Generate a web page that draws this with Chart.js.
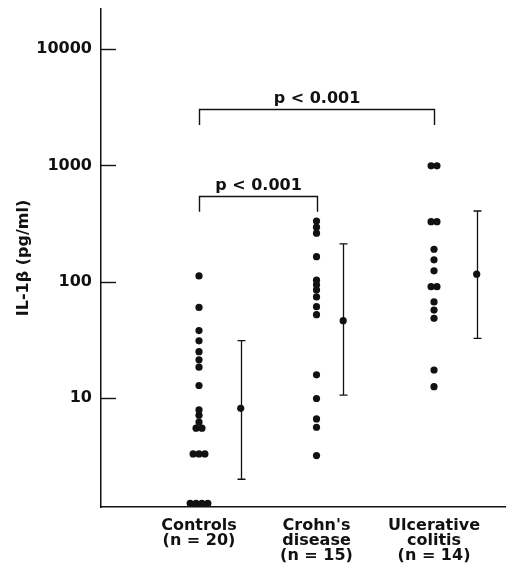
<!DOCTYPE html>
<html>
<head>
<meta charset="utf-8">
<title>IL-1β by group</title>
<script src="https://cdn.jsdelivr.net/npm/chart.js@4.4.1/dist/chart.umd.min.js"></script>
<style>
  html, body { margin: 0; padding: 0; background: #fff; }
  canvas { display: block; }
</style>
</head>
<body>
<canvas id="il1bChart" width="517" height="570"></canvas>
<script>
/* ==========================================================
   IL-1β (pg/ml) – controls vs Crohn's vs ulcerative colitis
   individual values + mean / range bars, log axis
========================================================== */

/* ---------- data ---------- */
const GROUP_LABELS = [
  ['Controls', '(n = 20)'],
  ["Crohn's", 'disease', '(n = 15)'],
  ['Ulcerative', 'colitis', '(n = 14)']
];
const CONTROLS = [112, 60, 38, 31, 25, 21.3, 18.4, 12.8, 7.9, 7.1, 6.2,
                  5.5, 5.5, 3.3, 3.3, 3.3, 1.24, 1.24, 1.24, 1.24];
const CROHNS   = [332, 294, 261, 164, 103, 94, 85, 74, 61, 52,
                  15.8, 9.9, 6.6, 5.6, 3.2];
const COLITIS  = [990, 990, 328, 328, 190, 154, 124, 90.6, 90.6,
                  67, 57, 48.4, 17.4, 12.5];
const MEANS    = [8.15, 46.2, 116];
const LOWER    = [2.0, 10.6, 32.6];
const UPPER    = [31.1, 211, 405];
const Y_TICKS  = [10, 100, 1000, 10000];
const P_LABELS = ['p < 0.001', 'p < 0.001'];
const BRACKET_PAIRS = [[0, 2], [0, 1]];
const BRACKET_TOP   = [3050, 545];   // y value of the bar
const BRACKET_FOOT  = [2220, 400];   // y value where the legs stop

/* ---------- look ---------- */
const INK   = '#111';
const FONT  = { family: '"DejaVu Sans", Arial, sans-serif', size: 16, weight: 'bold' };
const X_MIN = -0.834, X_MAX = 2.604;
const Y_MIN = 1.155,  Y_MAX = 22100;
const SUMMARY_SHIFT = [0.355, 0.227, 0.363];   // mean bar sits right of the dots
const TIE_STEP = 0.05;                         // side-by-side spacing for equal values
const CAP = 4, TICK_IN = 15;

/* ---------- tiny utils ---------- */
const spread = (vals, cat) => {
  const count = new Map(), seen = new Map();
  vals.forEach(v => count.set(v, (count.get(v) || 0) + 1));
  return vals.map(v => {
    const n = count.get(v), i = seen.get(v) || 0;
    seen.set(v, i + 1);
    return { x: cat + (i - (n - 1) / 2) * TIE_STEP, y: v };
  });
};
const fontStr = f => `${f.weight} ${f.size}px ${f.family}`;
const noPad = s => { s.paddingTop = s.paddingBottom = s.paddingLeft = s.paddingRight = 0; };

/* ---------- extras: inward ticks, range bars, brackets ---------- */
const extras = {
  id: 'extras',
  afterDatasetsDraw (chart) {
    const { ctx, chartArea: area, scales: { x, y } } = chart;
    ctx.save();
    ctx.strokeStyle = INK;
    ctx.fillStyle = INK;

    // y ticks point into the plot
    ctx.lineWidth = 1.4;
    Y_TICKS.forEach(v => {
      const py = Math.round(y.getPixelForValue(v)) + 0.5;
      ctx.beginPath();
      ctx.moveTo(area.left, py);
      ctx.lineTo(area.left + TICK_IN, py);
      ctx.stroke();
    });

    // range bars
    ctx.lineWidth = 1.3;
    MEANS.forEach((m, i) => {
      const px = Math.round(x.getPixelForValue(i + SUMMARY_SHIFT[i])) + 0.5;
      const lo = y.getPixelForValue(LOWER[i]);
      const hi = y.getPixelForValue(UPPER[i]);
      ctx.beginPath();
      ctx.moveTo(px, lo); ctx.lineTo(px, hi);
      ctx.moveTo(px - CAP, hi); ctx.lineTo(px + CAP, hi);
      ctx.moveTo(px - CAP, lo); ctx.lineTo(px + CAP, lo);
      ctx.stroke();
    });

    // significance brackets
    ctx.lineWidth = 1.4;
    ctx.font = fontStr(FONT);
    ctx.textAlign = 'center';
    ctx.textBaseline = 'alphabetic';
    BRACKET_PAIRS.forEach(([a, b], i) => {
      const x1 = Math.round(x.getPixelForValue(a)) + 0.5;
      const x2 = Math.round(x.getPixelForValue(b)) + 0.5;
      const top  = Math.round(y.getPixelForValue(BRACKET_TOP[i])) + 0.5;
      const foot = y.getPixelForValue(BRACKET_FOOT[i]);
      ctx.beginPath();
      ctx.moveTo(x1, foot); ctx.lineTo(x1, top);
      ctx.lineTo(x2, top);  ctx.lineTo(x2, foot);
      ctx.stroke();
      ctx.fillText(P_LABELS[i], (x1 + x2) / 2, top - 7);
    });
    ctx.restore();
  }
};

/* ---------- chart ---------- */
const dotSet = data => ({ data, pointRadius: 3.6, pointHoverRadius: 3.6,
  pointBackgroundColor: INK, pointBorderWidth: 0, clip: false });

new Chart(document.getElementById('il1bChart'), {
  type: 'scatter',
  data: {
    datasets: [
      dotSet(spread(CONTROLS, 0)),
      dotSet(spread(CROHNS, 1)),
      dotSet(spread(COLITIS, 2)),
      dotSet(MEANS.map((m, i) => ({ x: i + SUMMARY_SHIFT[i], y: m })))
    ]
  },
  options: {
    responsive: false,
    animation: false,
    events: [],
    layout: { padding: { top: 9, right: 12, left: 0, bottom: 0 } },
    plugins: { legend: { display: false }, tooltip: { enabled: false } },
    scales: {
      x: {
        type: 'linear', min: X_MIN, max: X_MAX,
        afterBuildTicks: s => { s.ticks = GROUP_LABELS.map((_, i) => ({ value: i })); },
        afterFit: s => { s.height = 63; noPad(s); },
        grid: { display: false, drawTicks: false },
        border: { display: true, color: INK, width: 1.5 },
        ticks: {
          autoSkip: false, maxRotation: 0, padding: 11, color: INK,
          font: { ...FONT, lineHeight: '15px' },
          callback: v => GROUP_LABELS[v] || ''
        }
      },
      y: {
        type: 'logarithmic', min: Y_MIN, max: Y_MAX,
        afterBuildTicks: s => { s.ticks = Y_TICKS.map(v => ({ value: v })); },
        afterFit: s => { s.width = 101; noPad(s); },
        grid: { display: false, drawTicks: false },
        border: { display: true, color: INK, width: 1.5 },
        ticks: { autoSkip: false, padding: 9, color: INK, font: FONT, callback: v => String(v) },
        title: {
          display: true, text: 'IL-1β (pg/ml)', color: INK, font: FONT,
          padding: { top: 14, bottom: 0 }
        }
      }
    }
  },
  plugins: [extras]
});
</script>
</body>
</html>
